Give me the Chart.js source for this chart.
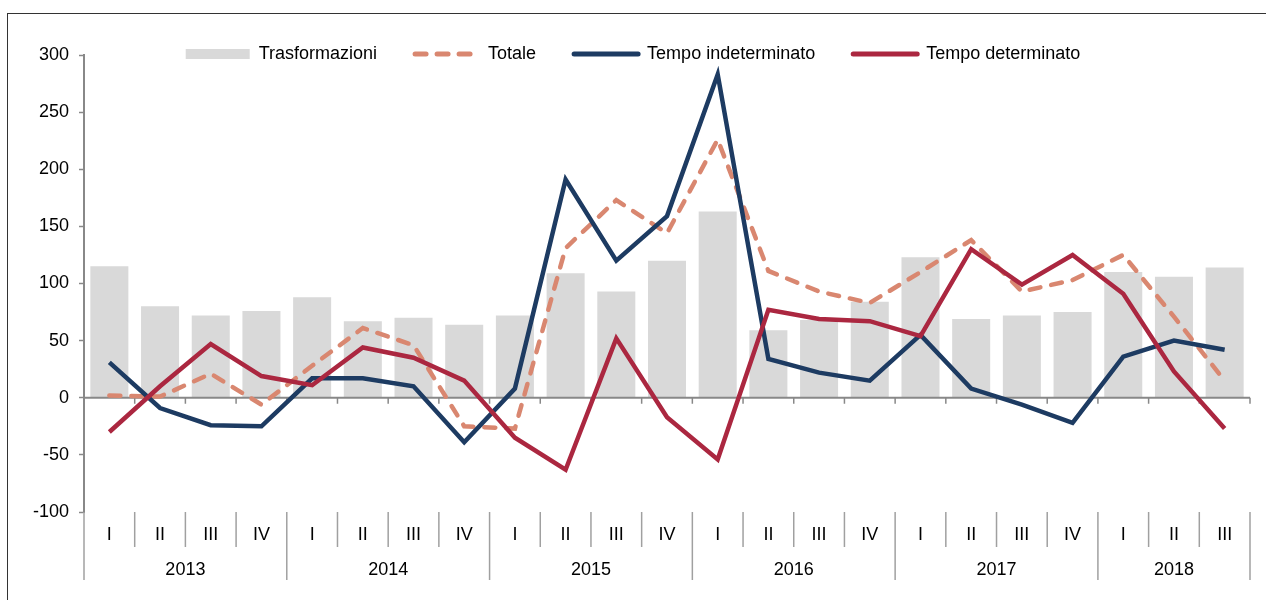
<!DOCTYPE html>
<html>
<head>
<meta charset="utf-8">
<script src="https://cdn.jsdelivr.net/npm/chart.js@4.4.1/dist/chart.umd.min.js"></script>
<style>
  body { margin: 0; background: #fff; }
  #wrap { position: relative; width: 1266px; height: 600px; overflow: hidden; }
  #frame { position: absolute; left: 7px; top: 13px; width: 1300px; height: 700px; border: 1px solid #333; }
  #chart { position: absolute; left: 0; top: 0; }
</style>
</head>
<body>
<div id="wrap">
  <div id="frame"></div>
  <canvas id="chart" width="1266" height="600"></canvas>
</div>
<script>
// quarters 2013 I .. 2018 III
const quarters = ["I","II","III","IV","I","II","III","IV","I","II","III","IV",
  "I","II","III","IV","I","II","III","IV","I","II","III"];
const years = ["2013","2013","2013","2013","2014","2014","2014","2014","2015","2015","2015","2015",
  "2016","2016","2016","2016","2017","2017","2017","2017","2018","2018","2018"];

const trasformazioni = [115, 80, 72, 76, 88, 67, 70, 64, 72, 109, 93, 120,
  163, 59, 68, 84, 123, 69, 72, 75, 110, 106, 114];
const totale = [2, 1, 21, -6, 28, 61, 46, -25, -27, 131, 173, 144,
  226, 111, 93, 83, 110, 138, 93, 103, 125, 71, 15];
const indeterminato = [31, -9, -24, -25, 17, 17, 10, -39, 8, 191, 120, 159,
  283, 34, 22, 15, 55, 8, -6, -22, 36, 50, 42];
const determinato = [-30, 10, 47, 19, 11, 44, 35, 15, -35, -63, 52, -17,
  -54, 77, 69, 67, 54, 130, 99, 125, 91, 23, -27];

const yTicks = { min: -100, max: 300, step: 50 };

const GRAY = "#d9d9d9";
const SALMON = "#d98770";
const NAVY = "#1d3b62";
const CRIMSON = "#ab2740";

Chart.defaults.font.family = "'Liberation Sans', Arial, sans-serif";
Chart.defaults.font.size = 18;
Chart.defaults.color = "#000";

// zero line + two-level category axis
const axisPlugin = {
  id: "twoLevelAxis",
  afterLayout(chart) {
    // legend is squeezed to keep the plot top; let it draw past its box
    const lg = chart.legend;
    if (lg) { lg.bottom = lg.top + 80; lg.height = 80; }
  },
  afterDatasetDraw(chart, args) {
    if (args.index !== 0) return;
    const ctx = chart.ctx;
    const x = chart.scales.x, y = chart.scales.y;
    const area = chart.chartArea;
    const y0 = y.getPixelForValue(0);
    const step = x.getPixelForValue(1) - x.getPixelForValue(0);
    ctx.save();
    ctx.strokeStyle = "#888";
    ctx.lineWidth = 2;
    ctx.beginPath();
    ctx.moveTo(area.left, y0);
    ctx.lineTo(area.right, y0);
    ctx.stroke();
    ctx.lineWidth = 1.5;
    for (let i = 0; i <= quarters.length; i++) {
      const bx = x.getPixelForValue(0) - step / 2 + i * step;
      ctx.beginPath();
      ctx.moveTo(bx, y0);
      ctx.lineTo(bx, y0 + 6);
      ctx.stroke();
    }
    ctx.restore();
  },
  afterDraw(chart) {
    const ctx = chart.ctx;
    const x = chart.scales.x;
    const bottom = chart.chartArea.bottom;
    const step = x.getPixelForValue(1) - x.getPixelForValue(0);
    const start = x.getPixelForValue(0) - step / 2;
    ctx.save();
    ctx.strokeStyle = "#a0a0a0";
    ctx.lineWidth = 1.5;
    ctx.fillStyle = "#000";
    ctx.font = "18px 'Liberation Sans', Arial, sans-serif";
    ctx.textAlign = "center";
    ctx.textBaseline = "middle";
    for (let i = 0; i <= quarters.length; i++) {
      const bx = start + i * step;
      const yearEdge = i === 0 || i === quarters.length || years[i] !== years[i - 1];
      ctx.beginPath();
      ctx.moveTo(bx, bottom);
      ctx.lineTo(bx, bottom + (yearEdge ? 68 : 35));
      ctx.stroke();
    }
    quarters.forEach((q, i) => {
      ctx.fillText(q, x.getPixelForValue(i), bottom + 23);
    });
    let first = 0;
    for (let i = 1; i <= years.length; i++) {
      if (i === years.length || years[i] !== years[first]) {
        const cx = (x.getPixelForValue(first) + x.getPixelForValue(i - 1)) / 2;
        ctx.fillText(years[first], cx, bottom + 58);
        first = i;
      }
    }
    ctx.restore();
  }
};

new Chart(document.getElementById("chart"), {
  type: "bar",
  data: {
    labels: quarters,
    datasets: [
      {
        label: "Trasformazioni",
        data: trasformazioni,
        backgroundColor: GRAY,
        barPercentage: 0.75,
        categoryPercentage: 1,
        order: 4
      },
      {
        type: "line",
        label: "Totale",
        data: totale,
        borderColor: SALMON,
        borderWidth: 4.5,
        borderDash: [11, 11],
        borderCapStyle: "round",
        pointRadius: 0,
        tension: 0,
        order: 3
      },
      {
        type: "line",
        label: "Tempo indeterminato",
        data: indeterminato,
        borderColor: NAVY,
        borderWidth: 4.5,
        pointRadius: 0,
        tension: 0,
        order: 2
      },
      {
        type: "line",
        label: "Tempo determinato",
        data: determinato,
        borderColor: CRIMSON,
        borderWidth: 4.5,
        pointRadius: 0,
        tension: 0,
        order: 1
      }
    ]
  },
  options: {
    responsive: false,
    animation: false,
    layout: { padding: { top: 7, left: 16, right: 16, bottom: 88 } },
    plugins: {
      tooltip: { enabled: false },
      legend: {
        position: "top",
        maxHeight: 48,
        labels: {
          usePointStyle: true,
          pointStyleWidth: 64,
          boxHeight: 10,
          padding: 38,
          color: "#000",
          generateLabels(chart) {
            return chart.data.datasets.map((ds, i) => {
              const isBar = i === 0;
              return {
                text: ds.label,
                datasetIndex: i,
                fillStyle: isBar ? ds.backgroundColor : "rgba(0,0,0,0)",
                strokeStyle: isBar ? "rgba(0,0,0,0)" : ds.borderColor,
                lineWidth: isBar ? 0 : 5,
                lineDash: ds.borderDash || [],
                lineCap: "round",
                pointStyle: isBar ? "rect" : "line",
                rotation: i === 1 ? 180 : 0,
                fontColor: "#000",
                hidden: false
              };
            });
          }
        }
      }
    },
    scales: {
      x: {
        type: "category",
        offset: true,
        display: false
      },
      y: {
        min: yTicks.min,
        max: yTicks.max,
        afterFit(scale) { scale.width = 68; },
        ticks: { stepSize: yTicks.step, padding: 10, color: "#000" },
        border: { color: "#888", width: 2 },
        grid: {
          drawOnChartArea: false,
          tickLength: 5,
          tickColor: "#888",
          tickWidth: 1.5
        }
      }
    }
  },
  plugins: [axisPlugin]
});
</script>
</body>
</html>
